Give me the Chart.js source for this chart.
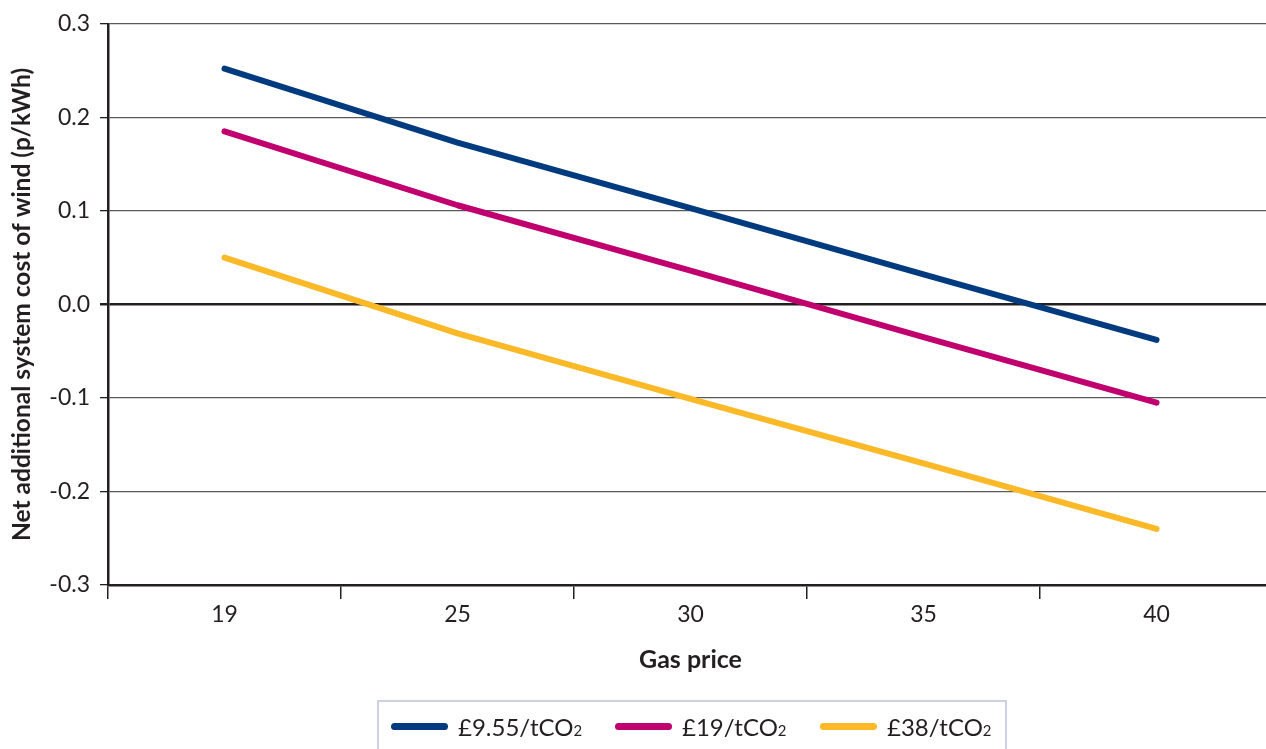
<!DOCTYPE html>
<html>
<head>
<meta charset="utf-8">
<script src="https://cdn.jsdelivr.net/npm/chart.js@4/dist/chart.umd.min.js"></script>
<style>
  html, body { margin: 0; padding: 0; background: #fff; overflow: hidden; width: 1266px; height: 749px; }
  #wrap { position: relative; width: 1266px; height: 749px; overflow: hidden; }
  canvas { position: absolute; left: 0; top: 0; }
  #legend {
    position: absolute; left: 377px; top: 700px; width: 626px; height: 60px;
    border: 2px solid #cdd0e3; box-sizing: content-box;
    font-family: Lato, "Noto Sans", sans-serif; font-size: 24px; color: #231f20;
  }
  .item { position: absolute; top: 10px; display: flex; align-items: center; white-space: nowrap; }
  .swatch { width: 57px; height: 7px; border-radius: 3.5px; margin-right: 10px; }
  .sub { font-size: 0.62em; }
</style>
</head>
<body>
<div id="wrap">
  <canvas id="c" width="1273" height="749"></canvas>
  <div id="legend"></div>
</div>
<script>
const categories = ['19', '25', '30', '35', '40'];
const seriesNames = ['£9.55/tCO₂', '£19/tCO₂', '£38/tCO₂'];
const legendHtml = ['£9.55/tCO<span class="sub">2</span>', '£19/tCO<span class="sub">2</span>', '£38/tCO<span class="sub">2</span>'];
const carbon955 = [0.252, 0.173, 0.103, 0.032, -0.038];
const carbon19 = [0.185, 0.106, 0.036, -0.035, -0.105];
const carbon38 = [0.050, -0.031, -0.101, -0.170, -0.240];
const yTicks = [-0.3, -0.2, -0.1, 0.0, 0.1, 0.2, 0.3];
const colors = ['#003b7f', '#c0006e', '#fbb827'];

const font = 'Lato, "Noto Sans", sans-serif';
const ink = '#231f20';
const allSeries = [carbon955, carbon19, carbon38];

const ctx = document.getElementById('c').getContext('2d');
new Chart(ctx, {
  type: 'line',
  data: {
    labels: categories,
    datasets: allSeries.map((d, i) => ({
      label: seriesNames[i],
      data: d,
      borderColor: colors[i],
      backgroundColor: colors[i],
      borderWidth: 6,
      borderCapStyle: 'round',
      borderJoinStyle: 'round',
      pointRadius: 0,
      tension: 0,
      fill: false
    }))
  },
  options: {
    responsive: false,
    animation: false,
    layout: { padding: { top: 21, left: 0, right: 0, bottom: 69 } },
    plugins: { legend: { display: false }, tooltip: { enabled: false } },
    scales: {
      x: {
        type: 'category',
        offset: true,
        afterFit: (s) => { s.height = 95; },
        border: { display: true, color: ink, width: 2.5 },
        grid: { offset: true, drawOnChartArea: false, drawTicks: true, tickLength: 14, color: ink, lineWidth: 1.5 },
        ticks: { color: ink, font: { family: font, size: 23 }, padding: 2, maxRotation: 0 },
        title: { display: true, text: 'Gas price', color: ink, font: { family: font, size: 25, weight: 'bold' }, padding: { top: 0, bottom: 5 } }
      },
      y: {
        min: -0.3, max: 0.3,
        afterFit: (s) => { s.width = 108; },
        afterBuildTicks: (s) => { s.ticks = yTicks.map(v => ({ value: v })); },
        border: { display: true, color: ink, width: 2.5 },
        grid: {
          color: (c) => (c.tick && Math.abs(c.tick.value) < 1e-9) ? ink : '#5a5a5a',
          lineWidth: (c) => (c.tick && Math.abs(c.tick.value) < 1e-9) ? 2.5 : 1.3,
          tickLength: 8,
          tickColor: ink
        },
        ticks: { color: ink, font: { family: font, size: 23 }, padding: 10, callback: (v) => Number(v).toFixed(1) },
        title: { display: true, text: 'Net additional system cost of wind (p/kWh)', color: ink, font: { family: font, size: 24.5, weight: 'bold' }, padding: { top: 7, bottom: 0 } }
      }
    }
  }
});

const legend = document.getElementById('legend');
const lefts = [12, 236, 441];
seriesNames.forEach((n, i) => {
  const it = document.createElement('div');
  it.className = 'item';
  it.style.left = lefts[i] + 'px';
  it.innerHTML = '<div class="swatch" style="background:' + colors[i] + '"></div><span>' + legendHtml[i] + '</span>';
  legend.appendChild(it);
});
</script>
</body>
</html>
